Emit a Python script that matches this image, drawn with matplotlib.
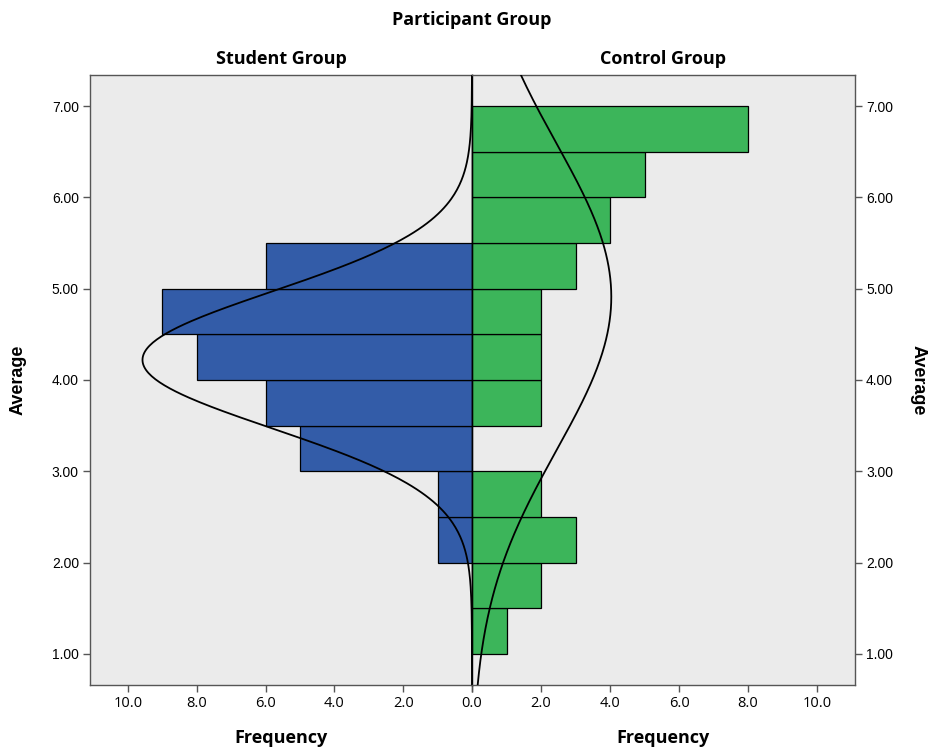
import numpy as np
import matplotlib.pyplot as plt

# histogram bins of the "Average" score
bin_edges = [1.0, 1.5, 2.0, 2.5, 3.0, 3.5, 4.0, 4.5, 5.0, 5.5, 6.0, 6.5, 7.0]

# counts per bin, lowest bin first
student_counts = [0, 0, 1, 1, 5, 6, 8, 9, 6, 0, 0, 0]
control_counts = [1, 2, 3, 2, 0, 2, 2, 2, 3, 4, 5, 8]

# normal curve parameters (mean, std dev)
student_fit = (4.22, 0.75)
control_fit = (4.91, 1.68)

group_names = ['Student Group', 'Control Group']
x_ticks = [0, 2, 4, 6, 8, 10]
y_ticks = [1, 2, 3, 4, 5, 6, 7]

BLUE = '#335ca8'
GREEN = '#3cb55a'
BG = '#ebebeb'
FRAME = '#555555'
TITLE_FONT = ['Open Sans', 'DejaVu Sans']
TICK_FONT = ['Liberation Sans', 'DejaVu Sans']

fig = plt.figure(figsize=(9.36, 7.51), dpi=100)
W, H = 936, 751
left, mid, right = 90, 472, 855
top, bottom = 75, 685
ax_l = fig.add_axes([left / W, 1 - bottom / H, (mid - left) / W, (bottom - top) / H])
ax_r = fig.add_axes([mid / W, 1 - bottom / H, (right - mid) / W, (bottom - top) / H])

ylim = (0.66, 7.34)
xmax = 11.1
y_curve = np.linspace(ylim[0], ylim[1], 400)


def draw_half(ax, counts, fit, color):
    ax.set_facecolor(BG)
    widths = np.diff(bin_edges)
    ax.barh(bin_edges[:-1], counts, height=widths, align='edge',
            color=color, edgecolor='black', linewidth=0.9, zorder=2)
    mu, sd = fit
    n = sum(counts)
    bw = widths[0]
    pdf = n * bw / (sd * np.sqrt(2 * np.pi)) * np.exp(-0.5 * ((y_curve - mu) / sd) ** 2)
    ax.plot(pdf, y_curve, color='black', linewidth=1.3, zorder=3)
    ax.set_ylim(*ylim)
    ax.set_yticks(y_ticks)
    ax.set_yticklabels(['%.2f' % v for v in y_ticks], family=TICK_FONT, fontsize=10)
    ax.set_xticks(x_ticks)
    ax.set_xticklabels(['%.1f' % v for v in x_ticks], family=TITLE_FONT, fontsize=10.5)
    ax.tick_params(direction='out', length=5, width=1, color=FRAME, pad=3)
    for s in ax.spines.values():
        s.set_color(FRAME)
        s.set_linewidth(1.0)
    ax.set_xlabel('Frequency', family=TITLE_FONT, fontsize=13, fontweight='bold', labelpad=13)


draw_half(ax_l, student_counts, student_fit, BLUE)
draw_half(ax_r, control_counts, control_fit, GREEN)

ax_l.set_xlim(xmax, 0)
ax_r.set_xlim(0, xmax)
ax_l.spines['right'].set_color('black')
ax_r.spines['left'].set_color('black')

# the shared zero is labelled once, from the right half
ax_l.set_xticklabels([''] + ['%.1f' % v for v in x_ticks[1:]], family=TITLE_FONT, fontsize=10.5)

ax_r.yaxis.tick_right()
ax_r.yaxis.set_label_position('right')
ax_r.tick_params(axis='y', left=False, right=True)

ax_l.set_ylabel('Average', family=TICK_FONT, fontsize=13, fontweight='bold', labelpad=18)
ax_r.set_ylabel('Average', family=TICK_FONT, fontsize=13, fontweight='bold',
                rotation=270, labelpad=24)

ax_l.set_title(group_names[0], family=TITLE_FONT, fontsize=13, fontweight='bold', pad=8)
ax_r.set_title(group_names[1], family=TITLE_FONT, fontsize=13, fontweight='bold', pad=8)
fig.text(mid / W, 1 - 20 / H, 'Participant Group', family=TITLE_FONT, fontsize=13,
         fontweight='bold', ha='center', va='center')

fig.savefig('out.png', dpi=100, facecolor='white')
